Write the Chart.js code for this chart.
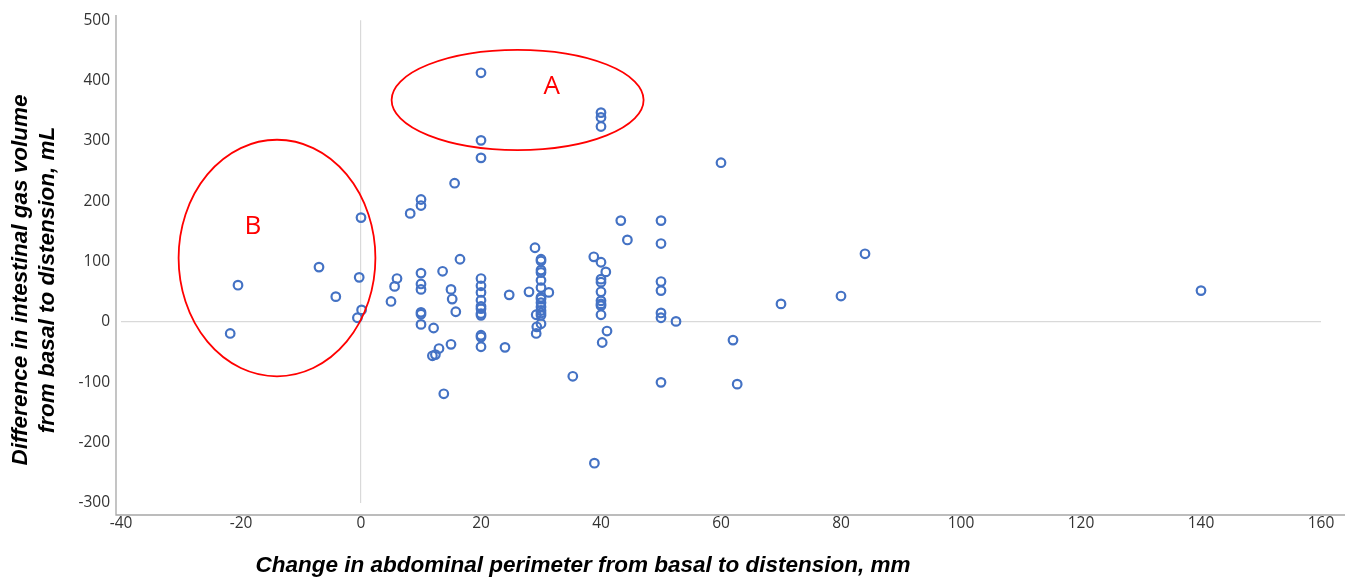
<!DOCTYPE html>
<html>
<head>
<meta charset="utf-8">
<script src="https://cdn.jsdelivr.net/npm/chart.js@4"></script>
<style>
  html, body { margin: 0; padding: 0; background: #fff; }
  #wrap { width: 1353px; height: 580px; position: relative; }
</style>
</head>
<body>
<div id="wrap"><canvas id="scatter"></canvas></div>
<script>
// change in abdominal perimeter (mm) and change in gas volume (mL)
const perimeter = [
  20, 20, 20, 15.6, 10, 10, 8.2, 0, 40, 40, 40, 60,
  -7, -20.5, -21.8, -4.2, -0.3, 0.1, -0.6,
  5.6, 6, 5, 10, 10, 10, 10, 10, 10,
  12.1, 13.6, 15, 15.2, 15.8, 16.5, 15, 13, 12.4, 11.9, 13.8,
  20, 20, 20, 20, 20, 20, 20, 20, 20, 20, 20,
  24, 24.7, 28,
  29, 30, 30, 30, 30, 30, 30, 31.3, 30, 30, 30, 30, 30, 30, 29.2, 30, 30, 29.3, 29.2,
  35.3,
  38.8, 40, 40.8, 40, 40, 40, 40, 40, 40, 40, 41, 40.2, 38.9,
  43.3, 44.4,
  50, 50, 50, 50, 50, 50, 50, 52.5,
  62, 62.7, 70, 80, 84, 140
];
const gasVolume = [
  413, 301, 272, 230, 203, 193, 180, 173, 347, 339, 324, 264,
  91, 61, -19, 42, 74, 20, 7,
  59, 72, 34, 81, 63, 54, 16, 13, -4,
  -10, 84, 54, 38, 17, 104, -37, -44, -54, -56, -119,
  72, 60, 49, 36, 26, 22, 14, 11, -22, -25, -41,
  -42, 45, 50,
  123, 104, 101, 86, 82, 69, 57, 49, 41, 38, 32, 25, 19, 15, 12, 11, -3, -8, -19,
  -90,
  108, 99, 83, 71, 66, 50, 35, 30, 27, 12, -15, -34, -234,
  168, 136,
  168, 130, 67, 52, 15, 7, -100, 1,
  -30, -103, 30, 43, 113, 52
];

const xTicks = [-40, -20, 0, 20, 40, 60, 80, 100, 120, 140, 160];
const yTicks = [-300, -200, -100, 0, 100, 200, 300, 400, 500];

// highlighted groups (ellipse centre and radii in data units)
const groupNames = ['A', 'B'];
const groupCenterX = [26.1, -14.0];
const groupCenterY = [368, 106];
const groupRadiusX = [21, 16.4];
const groupRadiusY = [83, 196];
const groupLabelX = [31.8, -18];
const groupLabelY = [390, 158];

const points = perimeter.map((x, i) => ({ x: x, y: gasVolume[i] }));

const decorations = {
  id: 'decorations',
  afterDatasetsDraw(chart) {
    const c = chart.ctx;
    const xs = chart.scales.x;
    const ys = chart.scales.y;
    const area = chart.chartArea;

    // detached axis lines like the original
    c.save();
    c.strokeStyle = '#a6a6a6';
    c.lineWidth = 1.3;
    c.beginPath();
    c.moveTo(area.left - 5, 15);
    c.lineTo(area.left - 5, area.bottom + 12);
    c.lineTo(1345, area.bottom + 12);
    c.stroke();

    // red ellipses and their letters
    c.strokeStyle = '#ff0000';
    c.lineWidth = 1.8;
    groupNames.forEach((name, i) => {
      const cx = xs.getPixelForValue(groupCenterX[i]);
      const cy = ys.getPixelForValue(groupCenterY[i]);
      const rx = Math.abs(xs.getPixelForValue(groupCenterX[i] + groupRadiusX[i]) - cx);
      const ry = Math.abs(ys.getPixelForValue(groupCenterY[i] + groupRadiusY[i]) - cy);
      c.beginPath();
      c.ellipse(cx, cy, rx, ry, 0, 0, Math.PI * 2);
      c.stroke();
      c.fillStyle = '#ff0000';
      c.font = '26px "Open Sans", sans-serif';
      c.textAlign = 'center';
      c.textBaseline = 'middle';
      c.fillText(name, xs.getPixelForValue(groupLabelX[i]), ys.getPixelForValue(groupLabelY[i]));
    });

    // axis titles
    c.fillStyle = '#000';
    c.font = 'italic bold 22.5px "Liberation Sans", Arial, sans-serif';
    c.textAlign = 'center';
    c.textBaseline = 'middle';
    c.fillText('Change in abdominal perimeter from basal to distension, mm', 583, 566);

    c.save();
    c.translate(21, 280);
    c.rotate(-Math.PI / 2);
    c.fillText('Difference in intestinal gas volume', 0, 0);
    c.restore();
    c.save();
    c.translate(48, 280);
    c.rotate(-Math.PI / 2);
    c.fillText('from basal to distension, mL', 0, 0);
    c.restore();
    c.restore();
  }
};

const ctx = document.getElementById('scatter').getContext('2d');

new Chart(ctx, {
  type: 'scatter',
  data: {
    datasets: [{
      label: 'Patients',
      data: points,
      pointStyle: 'circle',
      pointRadius: 4.3,
      pointHoverRadius: 4.3,
      pointBorderWidth: 2.2,
      pointBorderColor: '#4472c4',
      pointBackgroundColor: 'rgba(255,255,255,0)'
    }]
  },
  options: {
    responsive: true,
    maintainAspectRatio: false,
    animation: false,
    layout: { padding: { left: 0, right: 32, top: 19, bottom: 0 } },
    plugins: {
      legend: { display: false },
      tooltip: { enabled: false }
    },
    scales: {
      x: {
        type: 'linear',
        min: -40,
        max: 160,
        afterBuildTicks: (scale) => { scale.ticks = xTicks.map(v => ({ value: v })); },
        afterFit: (scale) => { scale.height = 77; },
        border: { display: false },
        grid: {
          drawTicks: false,
          color: (c) => (c.tick && c.tick.value === 0 ? '#d9d9d9' : 'rgba(0,0,0,0)'),
          lineWidth: 1.2
        },
        ticks: {
          padding: 11,
          color: '#333333',
          font: { family: '"Open Sans", sans-serif', size: 15.5 }
        }
      },
      y: {
        type: 'linear',
        min: -300,
        max: 500,
        afterBuildTicks: (scale) => { scale.ticks = yTicks.map(v => ({ value: v })); },
        afterFit: (scale) => { scale.width = 121; },
        border: { display: false },
        grid: {
          drawTicks: false,
          color: (c) => (c.tick && c.tick.value === 0 ? '#d9d9d9' : 'rgba(0,0,0,0)'),
          lineWidth: 1.2
        },
        ticks: {
          padding: 11,
          color: '#333333',
          font: { family: '"Open Sans", sans-serif', size: 15.5 }
        }
      }
    }
  },
  plugins: [decorations]
});
</script>
</body>
</html>
